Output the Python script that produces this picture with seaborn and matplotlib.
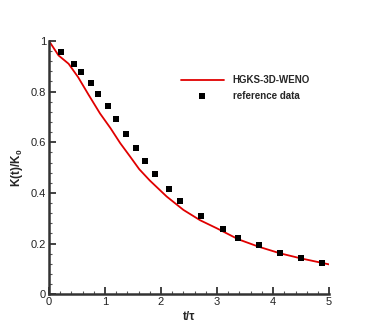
import matplotlib
matplotlib.use("Agg")
import matplotlib.pyplot as plt
import seaborn as sns
import pandas as pd
from matplotlib.ticker import MultipleLocator

# HGKS-3D-WENO curve
line_t = [0.0, 0.17, 0.35, 0.52, 0.70, 0.91, 1.10, 1.27, 1.45, 1.61, 1.80,
          2.10, 2.40, 2.70, 3.00, 3.38, 3.74, 4.12, 4.49, 5.00]
line_k = [1.0, 0.943, 0.910, 0.857, 0.790, 0.714, 0.655, 0.597, 0.543, 0.494,
          0.449, 0.386, 0.333, 0.292, 0.260, 0.217, 0.188, 0.162, 0.142, 0.118]

# reference data
ref_t = [0.21, 0.44, 0.57, 0.745, 0.88, 1.05, 1.19, 1.37, 1.55, 1.72, 1.90,
         2.14, 2.34, 2.71, 3.11, 3.38, 3.74, 4.13, 4.49, 4.87]
ref_k = [0.957, 0.911, 0.877, 0.834, 0.790, 0.745, 0.693, 0.632, 0.578, 0.527,
         0.475, 0.417, 0.370, 0.310, 0.258, 0.222, 0.195, 0.163, 0.143, 0.125]

line_df = pd.DataFrame({"t": line_t, "k": line_k})
ref_df = pd.DataFrame({"t": ref_t, "k": ref_k})

sns.set_theme(style="white")
plt.rcParams['font.family'] = ['Liberation Sans', 'DejaVu Sans']
plt.rcParams['mathtext.fontset'] = 'custom'
plt.rcParams['mathtext.rm'] = 'Liberation Sans:bold'
plt.rcParams['mathtext.bf'] = 'Liberation Sans:bold'

fig = plt.figure(figsize=(3.74, 3.32), dpi=100)
ax = fig.add_axes([0.131, 0.1136, 0.749, 0.763])

sns.lineplot(data=line_df, x="t", y="k", ax=ax, color="#e00000", linewidth=1.3,
             label="HGKS-3D-WENO", sort=False)
sns.scatterplot(data=ref_df, x="t", y="k", ax=ax, color="black", marker="s",
                s=22, linewidth=0, label="reference data", zorder=5)

ax.set_xlim(0, 5)
ax.set_ylim(0, 1)
ax.xaxis.set_major_locator(MultipleLocator(1))
ax.xaxis.set_minor_locator(MultipleLocator(0.2))
ax.yaxis.set_major_locator(MultipleLocator(0.2))
ax.yaxis.set_minor_locator(MultipleLocator(0.04))
ax.set_xticklabels([f"{v:g}" for v in ax.get_xticks()])
ax.set_yticklabels([f"{v:g}" for v in ax.get_yticks()])

for side in ["top", "right"]:
    ax.spines[side].set_visible(False)
for side in ["left", "bottom"]:
    ax.spines[side].set_color("#333333")
    ax.spines[side].set_linewidth(1.8)

ax.tick_params(which="major", direction="in", length=5, width=1.3, color="#333333",
               labelsize=8, labelcolor="#222222", pad=2)
ax.tick_params(which="minor", direction="in", length=2.5, width=0.8, color="#555555")
ax.tick_params(axis="x", which="both", bottom=True)
ax.tick_params(axis="y", which="both", left=True)

ax.set_xlabel("t/\u03c4", fontsize=8.5, fontweight="bold", labelpad=3)
ax.set_ylabel(r"K(t)/K$_{0}$", fontsize=8.5, fontweight="bold", labelpad=4)

leg = ax.legend(loc="upper left", bbox_to_anchor=(0.44, 0.9), frameon=False,
                fontsize=7, handlelength=4.4, handletextpad=0.9, labelspacing=0.6)
for t in leg.get_texts():
    t.set_fontweight("bold")

fig.savefig("out.png", dpi=100)
